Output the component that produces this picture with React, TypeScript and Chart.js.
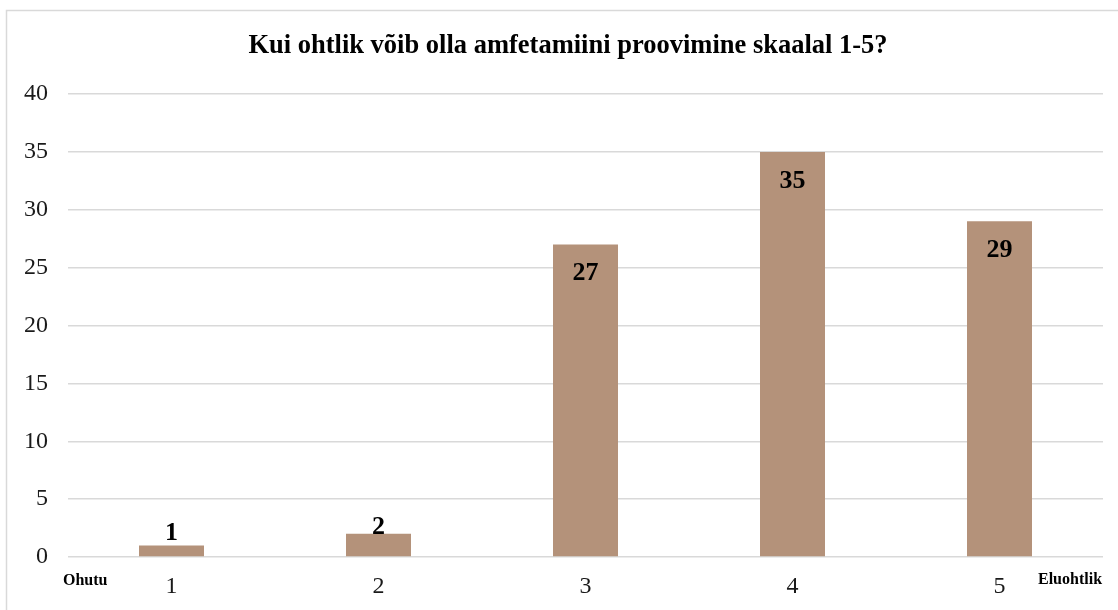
import React, { useEffect, useRef } from "react";
import { Chart, registerables } from "chart.js";

Chart.register(...registerables);

const TITLE = "Kui ohtlik võib olla amfetamiini proovimine skaalal 1-5?";
const categories = ["1", "2", "3", "4", "5"];
const values = [1, 2, 27, 35, 29];
const leftNote = "Ohutu";
const rightNote = "Eluohtlik";
const yMin = 0;
const yMax = 40;
const yStep = 5;

const SERIF = "'Liberation Serif', 'Times New Roman', serif";
const BAR_COLOR = "#b4927a";

const decorPlugin = {
  id: "decor",
  beforeDraw(chart: any) {
    const ctx = chart.ctx;
    ctx.save();
    ctx.fillStyle = "#ffffff";
    ctx.fillRect(0, 0, chart.width, chart.height);
    ctx.strokeStyle = "#d9d9d9";
    ctx.lineWidth = 1.5;
    ctx.strokeRect(6.5, 10.5, chart.width + 20, chart.height + 20);
    ctx.restore();
  },
  afterDraw(chart: any) {
    const ctx = chart.ctx;
    ctx.save();
    ctx.fillStyle = "#000";
    ctx.textAlign = "center";
    ctx.textBaseline = "alphabetic";
    ctx.font = `bold 26.5px ${SERIF}`;
    ctx.fillText(TITLE, 568, 53);

    ctx.font = `bold 16px ${SERIF}`;
    ctx.textAlign = "left";
    ctx.fillText(leftNote, 63, 585);
    ctx.fillText(rightNote, 1038, 584);

    // data labels
    const meta = chart.getDatasetMeta(0);
    ctx.font = `bold 26px ${SERIF}`;
    ctx.textAlign = "center";
    ctx.textBaseline = "middle";
    meta.data.forEach((bar: any, i: number) => {
      const top = bar.y;
      const base = bar.base;
      const h = base - top;
      const cy = h > 60 ? top + 29 : (top + base) / 2 - 18;
      ctx.fillText(String(values[i]), bar.x, cy);
    });
    ctx.restore();
  },
};

export default function App() {
  const ref = useRef<HTMLCanvasElement | null>(null);
  useEffect(() => {
    document.body.style.margin = "0";
    const canvas = ref.current!;
    const chart = new Chart(canvas, {
      type: "bar",
      data: {
        labels: categories,
        datasets: [
          {
            data: values,
            backgroundColor: BAR_COLOR,
            borderWidth: 0,
            barPercentage: 0.314,
            categoryPercentage: 1,
          },
        ],
      },
      options: {
        responsive: false,
        animation: false,
        layout: { padding: { left: 0, right: 15, top: 94, bottom: 13 } },
        plugins: {
          legend: { display: false },
          title: { display: false },
          tooltip: { enabled: false },
        },
        scales: {
          x: {
            grid: { display: false, drawTicks: false },
            border: { display: false },
            ticks: {
              font: { family: SERIF, size: 24 },
              color: "#1a1a1a",
              padding: 15,
              maxRotation: 0,
            },
            afterFit: (s: any) => {
              s.height = 40;
            },
          },
          y: {
            min: yMin,
            max: yMax,
            grid: { color: "#d9d9d9", lineWidth: 1.5, drawTicks: false },
            border: { display: false },
            ticks: {
              stepSize: yStep,
              font: { family: SERIF, size: 24 },
              color: "#1a1a1a",
              padding: 20,
            },
            afterFit: (s: any) => {
              s.width = 68;
            },
          },
        },
      },
      plugins: [decorPlugin],
    });
    return () => chart.destroy();
  }, []);
  return <canvas ref={ref} width={1118} height={610} style={{ display: "block" }} />;
}
